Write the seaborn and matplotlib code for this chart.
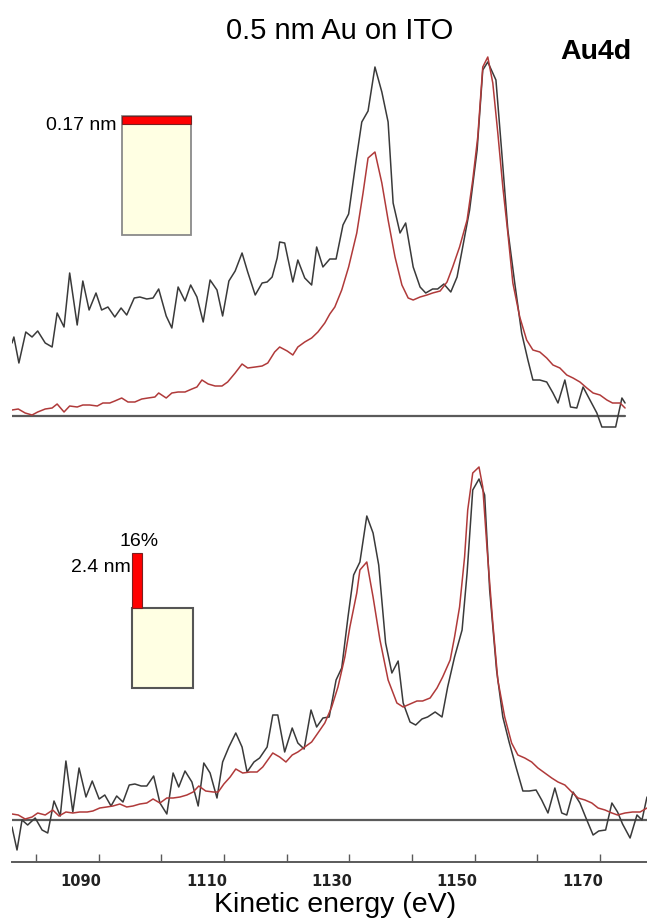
import matplotlib
matplotlib.use("Agg")
import matplotlib.pyplot as plt
from matplotlib.patches import Rectangle
import seaborn as sns
import pandas as pd

# ---------------- data (kinetic energy in eV, intensity in a.u.) ----------------
top_meas_E = [1079.0, 1079.3, 1080.1, 1081.2, 1082.2, 1083.1, 1084.3, 1085.4, 1086.2, 1087.3,
              1088.2, 1089.4, 1090.3, 1091.3, 1092.4, 1093.3, 1094.3, 1095.4, 1096.4, 1097.3,
              1098.5, 1099.4, 1100.5, 1101.5, 1102.4, 1103.6, 1104.5, 1105.5, 1106.6, 1107.5,
              1108.5, 1109.5, 1110.6, 1111.7, 1112.6, 1113.6, 1114.6, 1115.7, 1116.6, 1117.8,
              1118.9, 1119.7, 1120.5, 1121.3, 1121.7, 1122.5, 1123.8, 1124.6, 1125.7, 1126.8,
              1127.6, 1128.6, 1129.7, 1130.7, 1131.8, 1132.7, 1133.9, 1134.8, 1135.8, 1136.9,
              1138.0, 1139.0, 1139.8, 1140.9, 1141.8, 1143.0, 1144.1, 1145.0, 1146.1, 1146.9,
              1147.9, 1149.0, 1150.0, 1150.9, 1152.0, 1153.2, 1154.1, 1154.9, 1156.2, 1157.1,
              1158.1, 1159.2, 1160.3, 1161.3, 1162.1, 1163.2, 1164.3, 1165.3, 1166.1, 1167.2,
              1168.1, 1169.1, 1170.1, 1171.2, 1172.3, 1173.1, 1174.1, 1175.3, 1176.3, 1176.8]
top_meas_I = [73, 79, 53, 84, 79, 85, 73, 69, 103, 89,
              143, 91, 135, 106, 123, 106, 109, 99, 108, 101,
              118, 119, 117, 118, 127, 100, 88, 129, 115, 131,
              119, 94, 136, 126, 100, 135, 145, 163, 144, 121,
              133, 134, 139, 158, 174, 173, 134, 156, 138, 131,
              169, 149, 157, 157, 191, 202, 256, 294, 305, 349,
              324, 294, 213, 183, 193, 149, 129, 123, 127, 127,
              132, 124, 139, 169, 206, 266, 346, 354, 336, 266,
              186, 133, 83, 56, 36, 36, 34, 23, 13, 36,
              9, 8, 29, 16, 3, -11, -11, -11, 18, 13]

top_sim_E = [1079.0, 1080.0, 1081.1, 1082.2, 1083.1, 1084.3, 1085.4, 1086.2, 1087.3, 1088.2,
             1089.4, 1090.3, 1091.4, 1092.6, 1093.5, 1094.6, 1095.4, 1096.5, 1097.5, 1098.6,
             1099.7, 1100.7, 1101.8, 1102.4, 1103.6, 1104.5, 1105.5, 1106.6, 1107.7, 1108.5,
             1109.3, 1110.3, 1111.4, 1112.5, 1113.4, 1114.6, 1115.7, 1116.6, 1117.8, 1118.9,
             1119.8, 1120.9, 1121.7, 1122.9, 1123.8, 1124.6, 1125.7, 1126.8, 1127.8, 1128.9,
             1129.7, 1130.5, 1131.6, 1132.7, 1134.0, 1135.0, 1135.8, 1136.9, 1138.0, 1139.0,
             1140.1, 1141.2, 1142.2, 1143.0, 1144.1, 1145.2, 1146.1, 1147.3, 1148.4, 1149.3,
             1150.4, 1151.6, 1152.5, 1153.3, 1154.1, 1154.9, 1155.7, 1156.5, 1157.3, 1158.1,
             1158.9, 1160.0, 1161.1, 1162.1, 1163.2, 1164.3, 1165.3, 1166.4, 1167.5, 1168.5,
             1169.6, 1170.7, 1171.7, 1172.8, 1173.9, 1174.8, 1176.0, 1176.8]
top_sim_I = [6, 7, 3, 1, 4, 7, 8, 12, 4, 10,
             9, 11, 11, 10, 13, 13, 15, 18, 14, 14,
             17, 18, 19, 23, 18, 23, 24, 24, 27, 29,
             36, 32, 30, 30, 34, 43, 52, 48, 49, 50,
             53, 64, 69, 65, 61, 69, 74, 78, 84, 93,
             102, 109, 126, 149, 183, 223, 258, 264, 233, 196,
             159, 131, 118, 116, 119, 121, 123, 125, 134, 149,
             169, 196, 236, 279, 349, 359, 333, 283, 229, 183,
             133, 99, 76, 66, 64, 58, 51, 48, 41, 38,
             34, 28, 23, 21, 16, 13, 13, 8]

bot_meas_E = [1079.0, 1079.8, 1080.6, 1081.5, 1082.7, 1083.8, 1084.7, 1085.7, 1086.7, 1087.6,
              1088.7, 1089.7, 1090.8, 1091.8, 1092.9, 1093.8, 1094.8, 1095.7, 1096.7, 1097.7,
              1098.6, 1099.6, 1100.5, 1101.6, 1102.6, 1103.7, 1104.7, 1105.6, 1106.6, 1107.7,
              1108.7, 1109.6, 1110.6, 1111.7, 1112.6, 1113.6, 1114.7, 1115.7, 1116.5, 1117.6,
              1118.5, 1119.7, 1120.6, 1121.4, 1122.5, 1123.7, 1124.6, 1125.6, 1126.7, 1127.6,
              1128.6, 1129.6, 1130.7, 1131.6, 1132.6, 1133.5, 1134.5, 1135.6, 1136.6, 1137.5,
              1138.6, 1139.6, 1140.6, 1141.4, 1142.5, 1143.4, 1144.4, 1145.3, 1146.5, 1147.6,
              1148.5, 1149.6, 1150.8, 1151.6, 1152.5, 1153.5, 1154.4, 1155.2, 1156.3, 1157.3,
              1158.3, 1159.4, 1160.5, 1161.5, 1162.6, 1163.5, 1164.5, 1165.6, 1166.7, 1167.5,
              1168.5, 1169.6, 1170.5, 1171.7, 1172.6, 1173.7, 1174.7, 1175.6, 1176.4, 1177.6,
              1178.7, 1179.5, 1180.3]
bot_meas_I = [-7, -30, 0, -5, 2, -10, -13, 19, 4, 59,
              8, 52, 23, 39, 21, 25, 14, 24, 18, 35,
              36, 34, 34, 44, 17, 6, 47, 33, 49, 38,
              14, 57, 47, 22, 58, 73, 87, 73, 48, 58,
              62, 73, 105, 105, 68, 92, 77, 71, 110, 93,
              102, 103, 140, 152, 203, 245, 258, 304, 287, 255,
              177, 147, 159, 117, 98, 95, 101, 103, 108, 103,
              133, 163, 190, 247, 330, 341, 325, 230, 150, 103,
              78, 53, 29, 29, 30, 20, 7, 32, 7, 5,
              28, 17, 3, -15, -11, -10, 17, 8, -4, -18,
              5, 0, 23]

bot_sim_E = [1079.0, 1080.0, 1081.1, 1082.2, 1083.1, 1084.3, 1085.5, 1086.5, 1087.6, 1088.7,
             1089.8, 1091.0, 1091.9, 1093.0, 1094.1, 1095.1, 1096.2, 1097.3, 1098.3, 1099.4,
             1100.5, 1101.5, 1102.6, 1103.7, 1104.7, 1105.8, 1106.9, 1107.9, 1108.8, 1109.9,
             1111.1, 1111.9, 1112.8, 1113.8, 1114.7, 1115.8, 1117.0, 1118.1, 1119.0, 1120.6,
             1121.7, 1122.7, 1123.7, 1124.6, 1125.7, 1126.8, 1127.8, 1128.9, 1130.0, 1131.0,
             1132.1, 1132.9, 1134.0, 1134.5, 1135.6, 1136.6, 1137.7, 1139.0, 1140.4, 1141.4,
             1142.5, 1143.6, 1144.5, 1145.7, 1146.8, 1147.7, 1148.9, 1149.6, 1150.4, 1151.2,
             1151.7, 1152.5, 1153.5, 1154.1, 1154.8, 1155.7, 1156.5, 1157.6, 1158.7, 1159.7,
             1160.8, 1161.9, 1162.9, 1164.0, 1165.1, 1166.1, 1167.2, 1168.3, 1169.3, 1170.4,
             1171.5, 1172.5, 1173.6, 1174.7, 1175.6, 1176.8, 1178.0, 1179.2, 1180.3]
bot_sim_I = [6, 5, 1, 3, 7, 5, 10, 4, 8, 7,
             8, 8, 9, 12, 13, 14, 16, 13, 14, 16,
             17, 21, 17, 22, 22, 23, 25, 28, 34, 29,
             28, 28, 36, 43, 51, 47, 48, 48, 53, 67,
             63, 58, 65, 68, 73, 78, 87, 97, 113, 133,
             163, 193, 227, 250, 258, 223, 180, 140, 117, 113,
             116, 119, 119, 122, 132, 143, 160, 183, 213, 263,
             310, 347, 353, 333, 270, 197, 140, 103, 77, 65,
             62, 58, 52, 47, 42, 38, 35, 28, 22, 20,
             17, 12, 10, 7, 5, 7, 8, 8, 12]

tick_labels = [1090, 1110, 1130, 1150, 1170]
tick_marks = [1082.8, 1092.8, 1102.8, 1112.8, 1122.8, 1132.8, 1142.8, 1152.8, 1162.8, 1172.8]

# ---------------- style ----------------
sns.set_style("white")
plt.rcParams['font.family'] = ['Liberation Sans', 'DejaVu Sans']
plt.rcParams['text.color'] = 'black'

W, H = 647, 923
fig = plt.figure(figsize=(W / 100, H / 100), dpi=100)


def rect(x0, y0, x1, y1):
    return [x0 / W, 1 - y1 / H, (x1 - x0) / W, (y1 - y0) / H]


meas_color = "#3a3a3a"
sim_color = "#b03a3a"
base_color = "#5a5a5a"
xlim = (1079.0, 1180.3)

ax_top = fig.add_axes(rect(12, 40, 647, 440))
ax_bot = fig.add_axes(rect(12, 440, 647, 862))
ax_bot.set_facecolor("none")
ax_top.set_facecolor("none")

top_df_m = pd.DataFrame({"E": top_meas_E, "I": top_meas_I})
top_df_s = pd.DataFrame({"E": top_sim_E, "I": top_sim_I})
bot_df_m = pd.DataFrame({"E": bot_meas_E, "I": bot_meas_I})
bot_df_s = pd.DataFrame({"E": bot_sim_E, "I": bot_sim_I})

# top panel
ax_top.plot([min(top_meas_E), max(top_meas_E)], [0, 0], color=base_color, lw=1.6, zorder=1)
sns.lineplot(data=top_df_s, x="E", y="I", ax=ax_top, color=sim_color, lw=1.1,
             estimator=None, sort=False, zorder=3)
sns.lineplot(data=top_df_m, x="E", y="I", ax=ax_top, color=meas_color, lw=1.1,
             estimator=None, sort=False, zorder=2)
ax_top.set_xlim(*xlim)
ax_top.set_ylim(-24, 376)
ax_top.axis("off")

# bottom panel
ax_bot.axhline(0, color=base_color, lw=1.6, zorder=1)
sns.lineplot(data=bot_df_s, x="E", y="I", ax=ax_bot, color=sim_color, lw=1.1,
             estimator=None, sort=False, zorder=3)
sns.lineplot(data=bot_df_m, x="E", y="I", ax=ax_bot, color=meas_color, lw=1.1,
             estimator=None, sort=False, zorder=2)
ax_bot.set_xlim(*xlim)
ax_bot.set_ylim(-42, 380)
for s in ["top", "left", "right"]:
    ax_bot.spines[s].set_visible(False)
ax_bot.spines["bottom"].set_color(base_color)
ax_bot.spines["bottom"].set_linewidth(1.4)
ax_bot.set_yticks([])
ax_bot.set_xticks(tick_labels)
ax_bot.set_xticklabels([str(t) for t in tick_labels],
                       fontfamily=['Liberation Sans Narrow', 'DejaVu Sans'],
                       fontsize=10.5, fontweight='bold', color="#222222")
ax_bot.set_xticks(tick_marks, minor=True)
ax_bot.tick_params(axis="x", which="major", length=0, pad=9)
ax_bot.tick_params(axis="x", which="minor", length=6, width=1.0, direction="in",
                   color=base_color, bottom=True)
ax_bot.set_xlabel("")
ax_bot.set_ylabel("")
ax_top.set_xlabel("")
ax_top.set_ylabel("")

# ---------------- overlay for texts and layer sketches ----------------
ov = fig.add_axes([0, 0, 1, 1], zorder=5)
ov.set_facecolor("none")
ov.set_xlim(0, W)
ov.set_ylim(H, 0)
ov.axis("off")

fig.text(340 / W, 1 - 31 / H, "0.5 nm Au on ITO", ha="center", va="center", fontsize=21, color="black")
fig.text(596 / W, 1 - 52 / H, "Au4d", ha="center", va="center", fontsize=20.5, fontweight="bold", color="black")
fig.text(335 / W, 1 - 905 / H, "Kinetic energy (eV)", ha="center", va="center", fontsize=20.5, color="black")

beige = "#ffffe3"
edge = "#8a8a8a"
red = "#ff0000"
# top sketch: thin continuous layer
ov.add_patch(Rectangle((122, 116), 69, 119, facecolor=beige, edgecolor=edge, lw=1.3))
ov.add_patch(Rectangle((122, 116), 69, 8, facecolor=red, edgecolor="#7a2020", lw=0.8))
ov.text(117, 126, "0.17 nm", ha="right", va="center", fontsize=14, color="black")
# bottom sketch: islands
ov.add_patch(Rectangle((132, 608), 61, 80, facecolor=beige, edgecolor="#555555", lw=1.5))
ov.add_patch(Rectangle((132, 553), 10, 55, facecolor=red, edgecolor="#7a2020", lw=0.8))
ov.text(139, 542, "16%", ha="center", va="center", fontsize=14, color="black")
ov.text(131, 567, "2.4 nm", ha="right", va="center", fontsize=14, color="black")

fig.savefig("out.png", dpi=100)
